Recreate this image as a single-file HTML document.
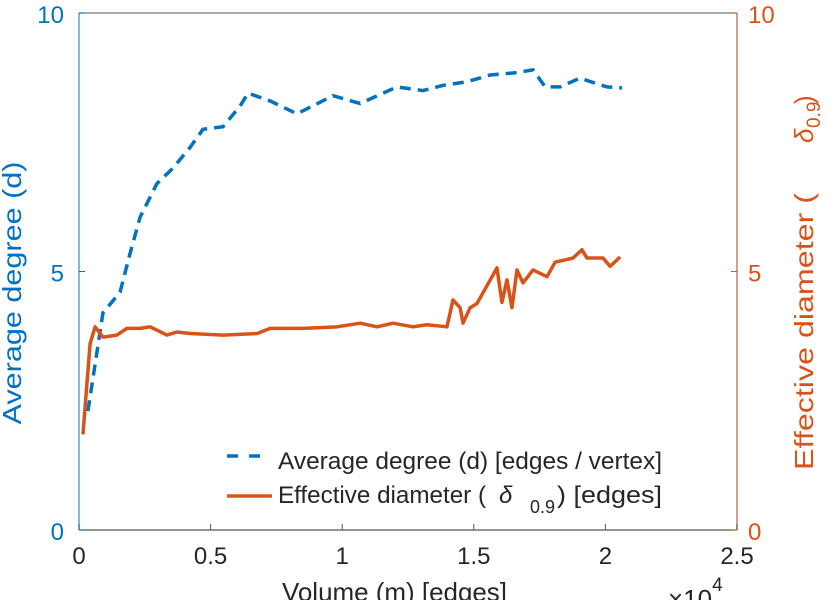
<!DOCTYPE html>
<html><head><meta charset="utf-8"><style>
html,body{margin:0;padding:0;background:#fff;width:829px;height:600px;overflow:hidden}
svg{display:block;font-family:"Liberation Sans",sans-serif}
</style></head><body>
<svg id="chart" width="829" height="600"></svg>
<script>
const blueX=[0.034,0.091,0.156,0.194,0.232,0.296,0.357,0.422,0.471,0.547,0.612,0.642,0.726,0.828,0.965,1.068,1.208,1.307,1.383,1.474,1.562,1.649,1.725,1.771,1.828,1.903,2.006,2.063];
const blueY=[2.3,4.2,4.6,5.35,6.05,6.7,7.0,7.4,7.75,7.8,8.2,8.45,8.3,8.05,8.4,8.25,8.57,8.5,8.6,8.67,8.8,8.84,8.9,8.57,8.57,8.74,8.57,8.55];
const orangeX=[0.015,0.042,0.061,0.091,0.144,0.182,0.232,0.270,0.334,0.372,0.422,0.547,0.677,0.726,0.851,0.980,1.068,1.132,1.193,1.269,1.322,1.398,1.421,1.448,1.459,1.486,1.512,1.588,1.607,1.626,1.645,1.664,1.687,1.725,1.778,1.809,1.877,1.911,1.930,1.991,2.018,2.056];
const orangeY=[1.85,3.6,3.93,3.73,3.77,3.9,3.9,3.93,3.77,3.83,3.8,3.77,3.8,3.9,3.9,3.93,4.0,3.93,4.0,3.93,3.97,3.93,4.45,4.3,4.0,4.3,4.38,5.07,4.4,4.84,4.3,5.03,4.78,5.03,4.9,5.18,5.26,5.42,5.26,5.26,5.1,5.28];
const xTicks=[0,0.5,1,1.5,2,2.5];
const xTickLabels=["0","0.5","1","1.5","2","2.5"];
const yTicks=[0,5,10];
const yTickLabels=["0","5","10"];

const NS="http://www.w3.org/2000/svg";
const svg=document.getElementById('chart');
const L=79,R=737,T=13,B=530;
function sx(v){return L+(v-0)/(2.5-0)*(R-L);}
function sy(v){return B-(v-0)/(10-0)*(B-T);}
function mk(tag,attrs,parent){const e=document.createElementNS(NS,tag);for(const k in attrs)e.setAttribute(k,attrs[k]);(parent||svg).appendChild(e);return e;}
const BLUE="#0072BD",OR="#D95319",GR="#262626";

// axes
let e=mk('line',{x1:L,y1:B,x2:R,y2:B,stroke:'#555','stroke-width':1.2});


e=mk('line',{x1:L,y1:T,x2:R,y2:T,stroke:'#777','stroke-width':1.2});


e=mk('line',{x1:L,y1:T,x2:L,y2:B,stroke:'#5aa0d8','stroke-width':1.5});


e=mk('line',{x1:R,y1:T,x2:R,y2:B,stroke:'#c08070','stroke-width':1.5});



xTicks.forEach((t,i)=>{
  let tk=mk('line',{x1:sx(t),y1:B,x2:sx(t),y2:B-6,stroke:'#555'});
  
  
  let tx=mk('text',{x:sx(t),y:B+34,'text-anchor':'middle','font-size':24,fill:GR});
  tx.textContent=xTickLabels[i];
  
  
});
yTicks.forEach((t,i)=>{
  let tk=mk('line',{x1:L,y1:sy(t),x2:L+6,y2:sy(t),stroke:BLUE});
  
  
  let tx=mk('text',{x:L-15,y:sy(t)+10,'text-anchor':'end','font-size':24,fill:BLUE});
  tx.textContent=yTickLabels[i];
  
  
  let tk2=mk('line',{x1:R,y1:sy(t),x2:R-6,y2:sy(t),stroke:OR});
  
  
  let tx2=mk('text',{x:R+11,y:sy(t)+10,'text-anchor':'start','font-size':24,fill:OR});
  tx2.textContent=yTickLabels[i];
  
  
});

// series
let p=mk('polyline',{points:blueX.map((x,i)=>sx(x)+','+sy(blueY[i])).join(' '),fill:'none',stroke:BLUE,'stroke-width':3.5,'stroke-dasharray':'11,7'});


p=mk('polyline',{points:orangeX.map((x,i)=>sx(x)+','+sy(orangeY[i])).join(' '),fill:'none',stroke:OR,'stroke-width':3.5,'stroke-linejoin':'round'});



// axis titles
let t=mk('text',{x:0,y:0,transform:'translate(21,293) rotate(-90)','text-anchor':'middle','font-size':26,fill:BLUE,textLength:263,lengthAdjust:'spacingAndGlyphs'});
t.textContent='Average degree (d)';



const rt=mk('g',{fill:OR});


t=mk('text',{x:0,y:0,transform:'translate(813,470) rotate(-90)','font-size':26,textLength:277,lengthAdjust:'spacingAndGlyphs'},rt);
t.textContent='Effective diameter (';
t=mk('text',{x:0,y:0,transform:'translate(813,143) rotate(-90)','font-size':26,'font-style':'italic'},rt);
t.textContent='δ';
t=mk('text',{x:0,y:0,transform:'translate(820,128) rotate(-90)','font-size':19},rt);
t.textContent='0.9';
t=mk('text',{x:0,y:0,transform:'translate(813,104) rotate(-90)','font-size':26},rt);
t.textContent=')';

t=mk('text',{x:282,y:601,'font-size':26,fill:GR,textLength:225,lengthAdjust:'spacingAndGlyphs'});
t.textContent='Volume (m) [edges]';


t=mk('text',{x:668,y:608,'font-size':26,fill:GR});
t.innerHTML='×10<tspan font-size="19" dy="-17">4</tspan>';



// legend
const lg=mk('g',{});


e=mk('line',{x1:227,y1:456,x2:264,y2:456,stroke:BLUE,'stroke-width':3.5,'stroke-dasharray':'11,11'},lg);


e=mk('text',{x:278,y:469,'font-size':24,fill:GR,textLength:384,lengthAdjust:'spacingAndGlyphs'},lg);
e.textContent='Average degree (d) [edges / vertex]';


e=mk('line',{x1:227,y1:496,x2:272,y2:496,stroke:OR,'stroke-width':3.5},lg);


const l2=mk('g',{fill:GR},lg);


e=mk('text',{x:278,y:503,'font-size':24,textLength:208,lengthAdjust:'spacingAndGlyphs'},l2);
e.textContent='Effective diameter (';
e=mk('text',{x:499,y:503,'font-size':24,'font-style':'italic'},l2);
e.textContent='δ';
e=mk('text',{x:530,y:513,'font-size':18},l2);
e.textContent='0.9';
e=mk('text',{x:557,y:503,'font-size':24,textLength:105,lengthAdjust:'spacingAndGlyphs'},l2);
e.textContent=') [edges]';
</script>
</body></html>
